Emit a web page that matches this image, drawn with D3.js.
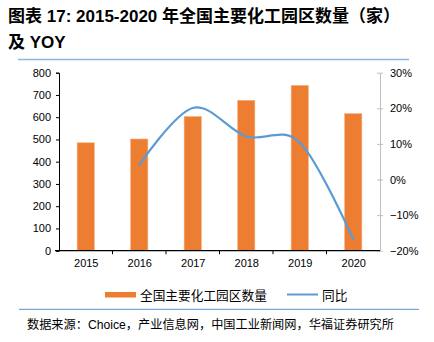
<!DOCTYPE html>
<html><head><meta charset="utf-8">
<script src="https://cdn.jsdelivr.net/npm/d3@7"></script>
<style>
body{margin:0;background:#fff;}
text{font-family:"Liberation Sans",Arial,"Noto Sans CJK SC",sans-serif;}
.cjk{font-family:"Liberation Sans","Noto Sans CJK SC",sans-serif;}
</style></head>
<body><svg id="c" width="434" height="342"></svg>
<script>
const years = ["2015","2016","2017","2018","2019","2020"];
const parks = [485, 502, 603, 676, 743, 616];
const yoyYears = ["2016","2017","2018","2019","2020"];
const yoy = [4.1, 20.1, 12.1, 10.4, -16.8];
const leftTicks = [0,100,200,300,400,500,600,700,800];
const rightTicks = [-20,-10,0,10,20,30];

const svg = d3.select("#c");
const L = 59, R = 380, T = 72.7, B = 250.7;

svg.append("text").attr("x",8).attr("y",22).attr("font-size",17).attr("font-weight","bold")
  .attr("class","cjk").text("图表 17: 2015-2020 年全国主要化工园区数量（家）");
svg.append("text").attr("x",8).attr("y",48).attr("font-size",17).attr("font-weight","bold")
  .attr("class","cjk").text("及 YOY");
svg.append("line").attr("x1",18).attr("x2",409).attr("y1",59.5).attr("y2",59.5)
  .attr("stroke","#8eb4e3").attr("stroke-width",1.5);

const xc = d => L + (years.indexOf(d)+0.5)*(R-L)/years.length;
const yL = d3.scaleLinear().domain([0,800]).range([B,T]);
const yR = d3.scaleLinear().domain([-20,30]).range([B,T]);

// bars
svg.append("g").selectAll("rect").data(years).join("rect")
  .attr("x", d => xc(d) - 8.6).attr("width", 17.2)
  .attr("y", (d,i) => yL(parks[i])).attr("height", (d,i) => B - yL(parks[i]))
  .attr("fill","#ed7d31").attr("stroke","#f4b183").attr("stroke-width",0.6);

// left axis
const gl = svg.append("g").attr("transform",`translate(${L},0)`)
  .call(d3.axisLeft(yL).tickValues(leftTicks).tickSize(3).tickPadding(5));
gl.select(".domain").attr("stroke","#000");
gl.selectAll(".tick line").attr("stroke","#000");
gl.selectAll("text").attr("font-size",11).attr("fill","#000").attr("font-family","Liberation Sans, Arial");

// right axis
const gr = svg.append("g").attr("transform",`translate(${R},0)`)
  .call(d3.axisRight(yR).tickValues(rightTicks).tickSize(0).tickPadding(10)
    .tickFormat(d => (d<0?"\u2212"+Math.abs(d):d)+"%"));
gr.select(".domain").attr("stroke","#bfbfbf");
gr.selectAll(".tick").append("line").attr("x1",-3).attr("x2",3).attr("stroke","#bfbfbf");
gr.selectAll("text").attr("font-size",11).attr("fill","#000").attr("font-family","Liberation Sans, Arial");

// x axis
const xs = d3.scalePoint().domain(years).range([L+(R-L)/12, R-(R-L)/12]);
const gx = svg.append("g").attr("transform",`translate(0,${B})`)
  .call(d3.axisBottom(xs).tickSize(0).tickPadding(9));
gx.select(".domain").remove();
gx.selectAll("text").attr("font-size",11).attr("fill","#000").attr("font-family","Liberation Sans, Arial");
svg.append("line").attr("x1",L-4).attr("x2",R).attr("y1",B).attr("y2",B).attr("stroke","#000").attr("stroke-width",1.2);
svg.append("g").selectAll("line").data(d3.range(1,6)).join("line")
  .attr("x1",i=>L+i*(R-L)/6).attr("x2",i=>L+i*(R-L)/6).attr("y1",B).attr("y2",B+3.5).attr("stroke","#000");

// line
const line = d3.line().x((d,i)=>xs(yoyYears[i])).y(d=>yR(d)).curve(d3.curveCatmullRom.alpha(0));
svg.append("path").datum(yoy).attr("d",line).attr("fill","none")
  .attr("stroke","#5b9bd5").attr("stroke-width",2.2).attr("stroke-linecap","round");

// legend
svg.append("rect").attr("x",105).attr("y",292).attr("width",31).attr("height",5.5).attr("fill","#ed7d31");
svg.append("text").attr("x",140).attr("y",299.5).attr("font-size",12.7).attr("class","cjk").text("全国主要化工园区数量");
svg.append("line").attr("x1",287).attr("x2",318).attr("y1",294.5).attr("y2",294.5).attr("stroke","#5b9bd5").attr("stroke-width",2);
svg.append("text").attr("x",322).attr("y",299.5).attr("font-size",12.7).attr("class","cjk").text("同比");

svg.append("line").attr("x1",19).attr("x2",419).attr("y1",309.3).attr("y2",309.3)
  .attr("stroke","#5b8fd0").attr("stroke-width",1);
svg.append("text").attr("x",27).attr("y",329).attr("font-size",12.2).attr("class","cjk")
  .text("数据来源：Choice，产业信息网，中国工业新闻网，华福证券研究所");
</script></body></html>
